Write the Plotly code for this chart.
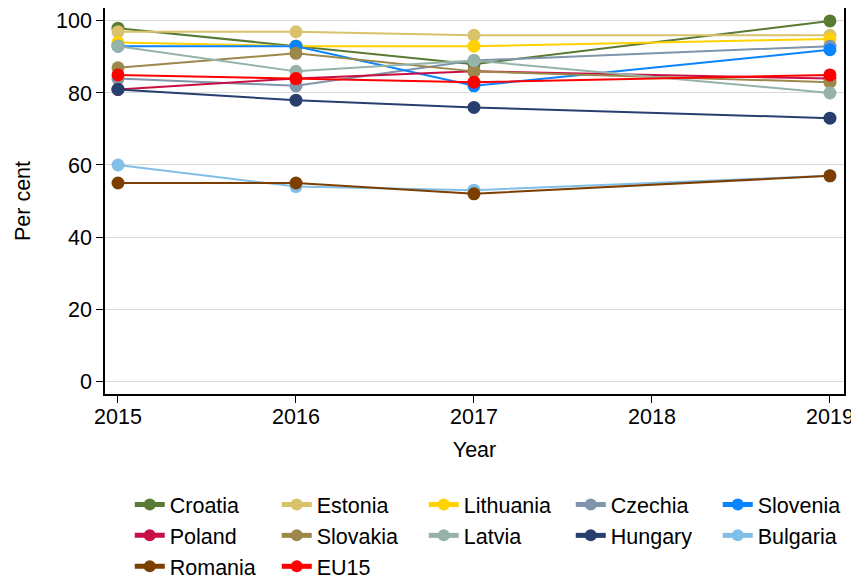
import plotly.graph_objects as go

years = [2015, 2016, 2017, 2019]

croatia = [98, 93, 88, 100]
estonia = [97, 97, 96, 96]
lithuania = [94, 93, 93, 95]
czechia = [84, 82, 89, 93]
slovenia = [93, 93, 82, 92]
poland = [81, 84, 86, 84]
slovakia = [87, 91, 86, 83]
latvia = [93, 86, 89, 80]
hungary = [81, 78, 76, 73]
bulgaria = [60, 54, 53, 57]
romania = [55, 55, 52, 57]
eu15 = [85, 84, 83, 85]

series = [
    ("Croatia", croatia, "#587a32"),
    ("Estonia", estonia, "#d9c26a"),
    ("Lithuania", lithuania, "#ffd200"),
    ("Czechia", czechia, "#7e95ab"),
    ("Slovenia", slovenia, "#0a84ff"),
    ("Poland", poland, "#c80f45"),
    ("Slovakia", slovakia, "#9b884a"),
    ("Latvia", latvia, "#96b3a9"),
    ("Hungary", hungary, "#263f6e"),
    ("Bulgaria", bulgaria, "#82bfe8"),
    ("Romania", romania, "#7d3f00"),
    ("EU15", eu15, "#ff0000"),
]

fig = go.Figure()
for name, vals, col in series:
    fig.add_trace(go.Scatter(
        x=years, y=vals, name=name, mode="lines+markers",
        line=dict(color=col, width=2),
        marker=dict(color=col, size=13),
    ))

font = "Liberation Sans, Arial, Helvetica, sans-serif"
fs = 21.5
# page body has an 8px margin, so the figure is sized to the visible area
fig.update_layout(
    width=851, height=572,
    margin=dict(l=97, r=15, t=0, b=186, autoexpand=False),
    paper_bgcolor="white", plot_bgcolor="white",
    font=dict(family=font, size=fs, color="black"),
    showlegend=True,
    legend=dict(
        orientation="h", x=0.0335, xanchor="left", y=-0.233, yanchor="top",
        entrywidth=102, entrywidthmode="pixels",
        font=dict(size=fs), traceorder="normal",
        itemsizing="constant", tracegroupgap=0,
    ),
    xaxis=dict(
        range=[2014.927, 2019.079],
        tickvals=[2015, 2016, 2017, 2018, 2019],
        ticks="outside", ticklen=7, tickcolor="black",
        ticklabelstandoff=-5,
        showgrid=False, zeroline=False, automargin=False,
        showline=True, linecolor="black", linewidth=1.5, mirror=True,
        title=dict(text="Year", font=dict(size=fs), standoff=14),
        tickfont=dict(size=fs),
    ),
    yaxis=dict(
        range=[-3.6, 103.6],
        tickvals=[0, 20, 40, 60, 80, 100],
        ticks="outside", ticklen=7, tickcolor="black",
        showgrid=True, gridcolor="#d9d9d9", gridwidth=1, zeroline=False,
        automargin=False,
        showline=True, linecolor="black", linewidth=1.5, mirror=True,
        title=dict(text="Per cent", font=dict(size=fs), standoff=20),
        tickfont=dict(size=fs),
    ),
)

fig.write_html("out.html")
